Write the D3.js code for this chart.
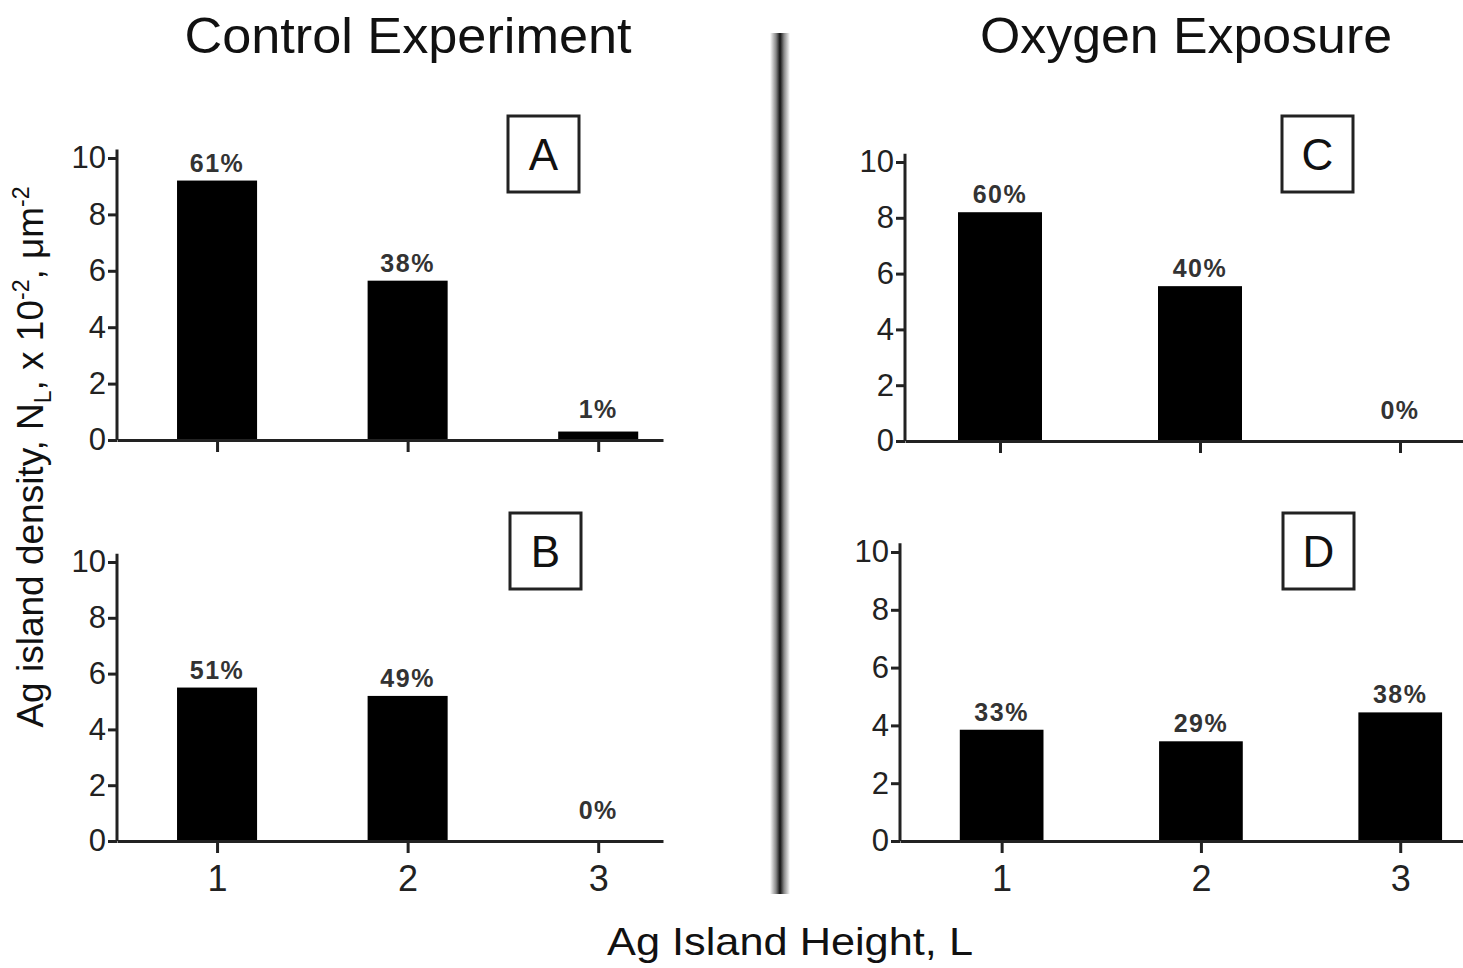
<!DOCTYPE html>
<html>
<head>
<meta charset="utf-8">
<script src="https://cdn.jsdelivr.net/npm/d3@7"></script>
<style>
  body { margin: 0; background: #fff; }
  svg { display: block; font-family: "Liberation Sans", Arial, sans-serif; }
</style>
</head>
<body>
<div id="chart"></div>
<script>
// island heights (x categories)
const heights = [1, 2, 3];
const yTicks = [0, 2, 4, 6, 8, 10];

// Ag island density, x 10^-2 um^-2
const controlA = [9.2, 5.65, 0.3];
const controlB = [5.5, 5.2, 0];
const oxygenC = [8.2, 5.55, 0];
const oxygenD = [3.85, 3.45, 4.45];

// percentage labels above each bar
const labelsA = ['61%', '38%', '1%'];
const labelsB = ['51%', '49%', '0%'];
const labelsC = ['60%', '40%', '0%'];
const labelsD = ['33%', '29%', '38%'];

const width = 1463, height = 968;
const svg = d3.select('#chart').append('svg')
  .attr('width', width)
  .attr('height', height);

// panel layout (pixel geometry only)
const panels = [
  {key: 'A', values: controlA, labels: labelsA, xr: [117, 663], xd: [0.475, 3.34], yr: [440, 158], box: [508, 116], tickText: false},
  {key: 'B', values: controlB, labels: labelsB, xr: [117, 663], xd: [0.475, 3.34], yr: [841, 562], box: [510, 513], tickText: true},
  {key: 'C', values: oxygenC, labels: labelsC, xr: [905, 1463], xd: [0.525, 3.315], yr: [441, 162], box: [1282, 116], tickText: false},
  {key: 'D', values: oxygenD, labels: labelsD, xr: [900, 1463], xd: [0.49, 3.315], yr: [841, 552], box: [1283, 513], tickText: true}
];

panels.forEach(p => {
  let x = d3.scaleLinear().domain(p.xd).range(p.xr);
  let y = d3.scaleLinear().domain([0, 10]).range(p.yr);
  let g = svg.append('g').attr('class', 'panel');

  // bars
  g.selectAll('rect.bar')
    .data(heights)
    .enter()
    .append('rect')
    .attr('class', 'bar')
    .attr('x', d => x(d - 0.21))
    .attr('width', d => x(d + 0.21) - x(d - 0.21))
    .attr('y', (d, i) => y(p.values[i]))
    .attr('height', (d, i) => y(0) - y(p.values[i]))
    .attr('fill', '#000');

  // y axis
  let yAxis = g.append('g')
    .attr('transform', `translate(${p.xr[0]},0)`)
    .call(d3.axisLeft(y).tickValues(yTicks).tickSize(9).tickSizeOuter(0).tickPadding(2));
  yAxis.select('.domain').attr('d', `M0,${y(0)}V${y(10.3)}`);

  // x axis
  let xAxis = g.append('g')
    .attr('transform', `translate(0,${y(0)})`)
    .call(d3.axisBottom(x).tickValues(heights).tickSize(12).tickSizeOuter(0).tickPadding(12)
      .tickFormat(p.tickText ? d3.format('d') : () => ''));

  [yAxis, xAxis].forEach(a => {
    a.selectAll('.domain, .tick line').attr('stroke', '#222').attr('stroke-width', 3);
  });
  yAxis.selectAll('.tick text').attr('font-size', 31).attr('fill', '#222').attr('font-family', null);
  xAxis.selectAll('.tick text').attr('font-size', 36).attr('fill', '#222').attr('font-family', null);

  // percent labels
  g.selectAll('text.pct')
    .data(heights)
    .enter()
    .append('text')
    .attr('class', 'pct')
    .attr('x', d => x(d))
    .attr('y', (d, i) => Math.min(y(p.values[i]) - 9, y(0) - 22))
    .attr('text-anchor', 'middle')
    .attr('font-size', 25)
    .attr('font-weight', 'bold')
    .attr('letter-spacing', 1.5)
    .attr('fill', '#333')
    .text((d, i) => p.labels[i]);

  // panel letter box
  g.append('rect')
    .attr('x', p.box[0]).attr('y', p.box[1])
    .attr('width', 71).attr('height', 76)
    .attr('fill', 'none').attr('stroke', '#222').attr('stroke-width', 3);
  g.append('text')
    .attr('x', p.box[0] + 35.5).attr('y', p.box[1] + 54)
    .attr('text-anchor', 'middle')
    .attr('font-size', 44)
    .attr('fill', '#111')
    .text(p.key);
});

// column titles
svg.append('text').attr('x', 408).attr('y', 53).attr('text-anchor', 'middle')
  .attr('font-size', 50).attr('fill', '#111')
  .attr('textLength', 447).attr('lengthAdjust', 'spacingAndGlyphs')
  .text('Control Experiment');
svg.append('text').attr('x', 1186).attr('y', 53).attr('text-anchor', 'middle')
  .attr('font-size', 50).attr('fill', '#111')
  .attr('textLength', 412).attr('lengthAdjust', 'spacingAndGlyphs')
  .text('Oxygen Exposure');

// divider between the two experiments (soft gray edges, dark core)
let grad = svg.append('defs').append('linearGradient')
  .attr('id', 'divGrad').attr('x1', '0%').attr('x2', '100%');
[[0, '#fff'], [0.3, '#888'], [0.5, '#111'], [0.7, '#888'], [1, '#fff']].forEach(s => {
  grad.append('stop').attr('offset', s[0]).attr('stop-color', s[1]);
});
svg.append('rect').attr('x', 770).attr('y', 33).attr('width', 20).attr('height', 861)
  .attr('fill', 'url(#divGrad)');

// shared x label
svg.append('text').attr('x', 790).attr('y', 955).attr('text-anchor', 'middle')
  .attr('font-size', 39).attr('fill', '#111')
  .attr('textLength', 366).attr('lengthAdjust', 'spacingAndGlyphs')
  .text('Ag Island Height, L');

// shared y label
let yl = svg.append('text')
  .attr('transform', 'translate(43,457) rotate(-90)')
  .attr('text-anchor', 'middle')
  .attr('font-size', 37)
  .attr('fill', '#111');
yl.append('tspan').text('Ag island density, N');
yl.append('tspan').attr('font-size', 23).attr('dy', 8).text('L');
yl.append('tspan').attr('dy', -8).text(',  x 10');
yl.append('tspan').attr('font-size', 23).attr('dy', -14).text('-2');
yl.append('tspan').attr('dy', 14).text(', μm');
yl.append('tspan').attr('font-size', 23).attr('dy', -14).text('-2');
</script>
</body>
</html>
